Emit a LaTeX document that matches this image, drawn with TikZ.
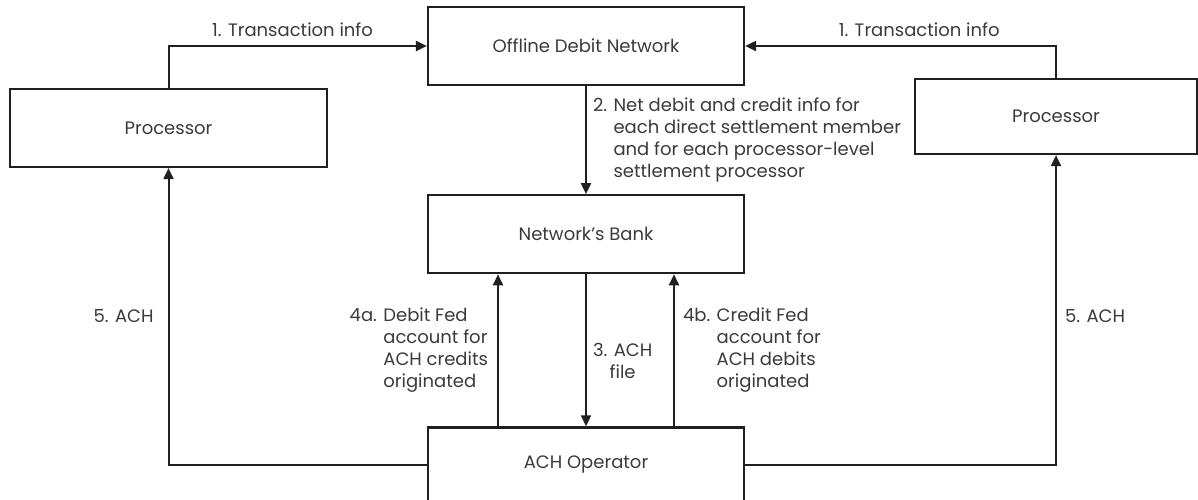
\documentclass[tikz,border=0pt]{standalone}
\usepackage{fontspec}
\setmainfont{Poppins}
\usepackage{xcolor}
\definecolor{cLine}{HTML}{231F20}
\definecolor{cText}{HTML}{3A3A3A}
\usetikzlibrary{positioning,arrows.meta}
\tikzset{
  node-box/.style={draw=cLine,line width=2.2pt,inner sep=0pt,
    minimum height=78pt,minimum width=316pt,align=center,
    text=cText,font=\fontsize{18}{22}\selectfont},
  arrow/.style={-{Triangle[length=11pt,width=10pt]},line width=2pt,draw=cLine},
  flow-label/.style={text=cText,inner sep=0pt,align=left,
    font=\fontsize{18}{22}\selectfont},
}
% hanging label: number in front, text lines aligned after it
\newcommand{\steptext}[2]{\begin{tabular}{@{}l@{ }l@{}}#1 & #2\end{tabular}}

\begin{document}
\begin{tikzpicture}[x=1pt,y=-1pt,node distance=108pt and 6mm]
  \useasboundingbox (0,0) rectangle (1198,499);
  % boxes
  \node[node-box] (odn) at (586,46) {Offline Debit Network};
  \node[node-box,below=of odn] (bank) {Network’s Bank};
  \node[node-box,below=152pt of bank,minimum height=75pt] (ach) {ACH Operator};
  \node[node-box,minimum width=317pt] (procL) at (168.5,128) {Processor};
  \node[node-box,minimum width=282pt,minimum height=75pt] (procR) at (1056,116.5) {Processor};

  % 1. transaction info
  \draw[arrow] (procL.north) |- (odn.west)
    node[flow-label,above=8pt,pos=0.74] (l1a) {1. Transaction info};
  \draw[arrow] (procR.north) |- (odn.east)
    node[flow-label,above=8pt,pos=0.72] (l1b) {1. Transaction info};

  % 2. net info
  \draw[arrow] (odn.south) -- (bank.north)
    node[flow-label,right=6pt,midway] (l2) {2. Net debit and credit info for\\
      \hphantom{2. }each direct settlement member\\
      \hphantom{2. }and for each processor-level\\
      \hphantom{2. }settlement processor};

  % 3. ACH file
  \draw[arrow] (bank.south) -- (ach.north)
    node[flow-label,align=center,right=6pt,pos=0.57] (l3) {3. ACH\\file};

  % 4a / 4b
  \draw[arrow] ([xshift=-88pt]ach.north) -- ([xshift=-88pt]bank.south)
    node[flow-label,left=9pt,midway] (l4a)
      {\steptext{4a.}{Debit Fed\\ & account for\\ & ACH credits\\ & originated}};
  \draw[arrow] ([xshift=88pt]ach.north) -- ([xshift=88pt]bank.south)
    node[flow-label,right=8pt,midway] (l4b)
      {\steptext{4b.}{Credit Fed\\ & account for\\ & ACH debits\\ & originated}};

  % 5. ACH
  \draw[arrow] (ach.west) -| (procL.south)
    node[flow-label,left=14pt,pos=0.75] (l5a) {5. ACH};
  \draw[arrow] (ach.east) -| (procR.south)
    node[flow-label,right=8pt,pos=0.74] (l5b) {5. ACH};
\end{tikzpicture}
\end{document}
